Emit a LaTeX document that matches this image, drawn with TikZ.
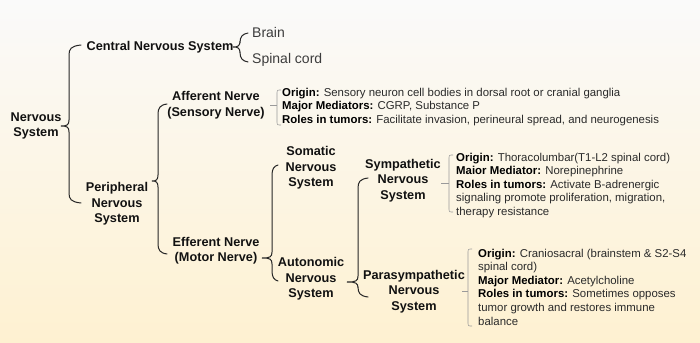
\documentclass[tikz,border=0pt]{standalone}
\usepackage{fontspec}
\setmainfont{Liberation Sans}
\definecolor{bgtop}{HTML}{FAFAFA}
\definecolor{bgmid}{HTML}{FCF8EC}
\definecolor{bgbot}{HTML}{FEF1D1}
\definecolor{titlecol}{HTML}{111111}
\definecolor{infocol}{HTML}{2A2A2A}
\definecolor{leafcol}{HTML}{3C3C3C}
\definecolor{bracecol}{HTML}{262626}
\definecolor{bracketcol}{HTML}{9A9A9A}
\newcommand{\lbl}[1]{\textcolor{black}{\bfseries #1}}
\newcommand{\drawbrace}[6]{%
  \draw[bracestyle] (#4,#5) .. controls ({#3+2},{#5+1}) and (#3,{#5+4}) .. (#3,{#5+10}) -- (#3,{#2-6})
    .. controls (#3,{#2-1}) and ({#3-2},#2) .. (#1,#2) .. controls ({#3-2},#2) and (#3,{#2+1}) .. (#3,{#2+6})
    -- (#3,{#6-10}) .. controls (#3,{#6-4}) and ({#3+2},{#6-1}) .. (#4,#6);}
\newcommand{\drawbracket}[5]{%
  \draw[bracketstyle] ({#2+4},#3) .. controls (#2,#3) .. (#2,{#3+4}) -- (#2,{#4-4})
    .. controls (#2,#4) .. ({#2+4},#4);
  \draw[bracketstyle] (#1,#5) -- (#2,#5);}
\begin{document}
\begin{tikzpicture}[x=1pt,y=-1pt,
  title/.style={font=\fontsize{12.7}{15.5}\selectfont\bfseries, align=center, inner sep=0pt, text=titlecol},
  info/.style={font=\fontsize{11.4}{13.6}\selectfont, align=left, inner sep=0pt, anchor=north west, text=infocol},
  leaf/.style={font=\fontsize{14}{16}\selectfont, inner sep=0pt, anchor=west, text=leafcol},
  bracestyle/.style={draw=bracecol, line width=1pt, line cap=round},
  bracketstyle/.style={draw=bracketcol, line width=0.6pt}]
\useasboundingbox (0,0) rectangle (700,342);
\shade[top color=bgtop, middle color=bgmid, bottom color=bgbot] (0,0) rectangle (700,342);

% titles
\node[title] (ns) at (36,126) {Nervous\\System};
\node[title] (cns) at (160,47) {Central Nervous System};
\node[leaf] (brain) at (252,32) {Brain};
\node[leaf] (spinal) at (252,60) {Spinal cord};
\node[title] (pns) at (117,204) {Peripheral\\Nervous\\System};
\node[title] (aff) at (216,105) {Afferent Nerve\\(Sensory Nerve)};
\node[title] (eff) at (216,250.5) {Efferent Nerve\\(Motor Nerve)};
\node[title] (som) at (311,168) {Somatic\\Nervous\\System};
\node[title] (aut) at (311,279) {Autonomic\\Nervous\\System};
\node[title] (sym) at (403,180.5) {Sympathetic\\Nervous\\System};
\node[title] (par) at (414,291.5) {Parasympathetic\\Nervous\\System};

% info blocks
\node[info] (affinfo) at (282,87.7) {\lbl{Origin:} Sensory neuron cell bodies in dorsal root or cranial ganglia\\
\lbl{Major Mediators:} CGRP, Substance P\\
\lbl{Roles in tumors:} Facilitate invasion, perineural spread, and neurogenesis};
\node[info] (syminfo) at (456,152.7) {\lbl{Origin:} Thoracolumbar(T1-L2 spinal cord)\\
\lbl{Maior Mediator:} Norepinephrine\\
\lbl{Roles in tumors:} Activate B-adrenergic\\
signaling promote proliferation, migration,\\
therapy resistance};
\node[info] (parinfo) at (478,248.7) {\lbl{Origin:} Craniosacral (brainstem \& S2-S4\\
spinal cord)\\
\lbl{Major Mediator:} Acetylcholine\\
\lbl{Roles in tumors:} Sometimes opposes\\
tumor growth and restores immune\\
balance};

% braces: tip x, tip y, vertical x, end x, top y, bottom y
\drawbrace{61}{126}{69}{81}{45}{203}
\drawbrace{233}{47}{240}{248}{33}{62}
\drawbrace{152}{181}{158}{167}{104}{254}
\drawbrace{262}{258}{272}{278}{165}{281}
\drawbrace{347}{282}{358}{368}{178}{297}

% brackets: tick x, vertical x, top y, bottom y, tick y
\drawbracket{270}{277}{90}{125}{105}
\drawbracket{441}{449}{155}{212}{183}
\drawbracket{462}{468}{249}{326}{291}
\end{tikzpicture}
\end{document}
